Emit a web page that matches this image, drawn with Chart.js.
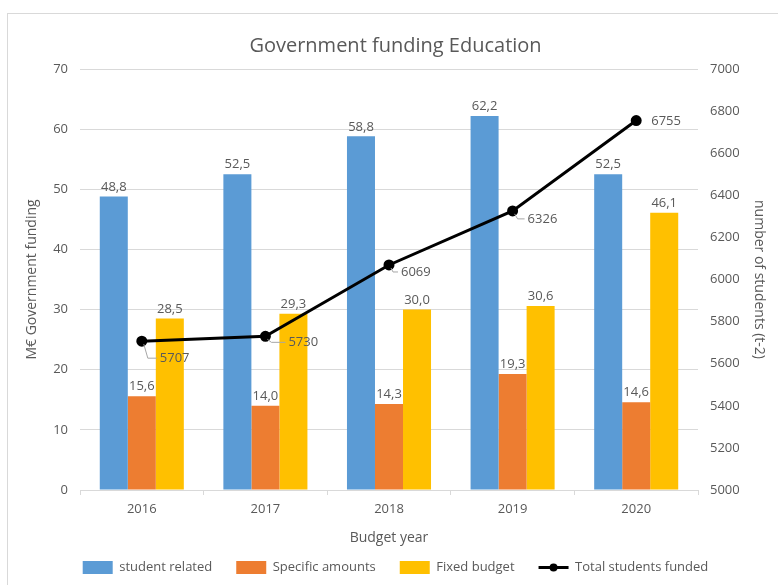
<!DOCTYPE html>
<html>
<head>
<meta charset="utf-8">
<script src="https://cdn.jsdelivr.net/npm/chart.js@4/dist/chart.umd.min.js"></script>
<style>
  body { margin: 0; background: #fff; overflow: hidden; }
  #wrap { position: absolute; left: 7px; top: 13px; border-left: 1px solid #d9d9d9; border-top: 1px solid #d9d9d9; }
  canvas { display: block; }
</style>
</head>
<body>
<div id="wrap"><canvas id="myChart" width="771" height="572"></canvas></div>
<script>
const years = ["2016", "2017", "2018", "2019", "2020"]
const studentRelated = [48.8, 52.5, 58.8, 62.2, 52.5]
const specificAmounts = [15.6, 14.0, 14.3, 19.3, 14.6]
const fixedBudget = [28.5, 29.3, 30.0, 30.6, 46.1]
const totalStudents = [5707, 5730, 6069, 6326, 6755]

const grijs = "#595959"
const lettertype = '"Open Sans", sans-serif'

// waar de labels van de lijn komen te staan (dx, dy, met lijntje of niet)
const lijnLabels = [
    [18, 17, true],
    [23, 6, true],
    [12, 7, true],
    [15, 8, true],
    [15, 1, false]
]

function komma(v) {
    return v.toFixed(1).replace(".", ",")
}

const labelsPlugin = {
    id: "labels",
    afterDatasetsDraw(chart) {
        const ctx = chart.ctx
        ctx.save()
        ctx.font = "13px " + lettertype
        ctx.fillStyle = grijs
        ctx.textAlign = "center"
        ctx.textBaseline = "bottom"
        for (let d = 0; d < 3; d++) {
            chart.getDatasetMeta(d).data.forEach((bar, i) => {
                ctx.fillText(komma(chart.data.datasets[d].data[i]), bar.x, bar.y - 3)
            })
        }
        ctx.textAlign = "left"
        ctx.textBaseline = "middle"
        ctx.strokeStyle = "#a6a6a6"
        ctx.lineWidth = 1
        chart.getDatasetMeta(3).data.forEach((pt, i) => {
            const [dx, dy, lijn] = lijnLabels[i]
            if (lijn) {
                ctx.beginPath()
                ctx.moveTo(pt.x + 2, pt.y + 3)
                ctx.lineTo(pt.x + Math.min(6, dx / 3), pt.y + dy)
                ctx.lineTo(pt.x + dx - 3, pt.y + dy)
                ctx.stroke()
            }
            ctx.fillText(String(totalStudents[i]), pt.x + dx, pt.y + dy)
        })
        ctx.restore()
    },
    afterDraw(chart) {
        // bolletje op het lijntje in de legenda
        const box = chart.legend.legendHitBoxes[3]
        if (!box) return
        const ctx = chart.ctx
        ctx.save()
        ctx.fillStyle = "black"
        ctx.beginPath()
        ctx.arc(box.left + 15, box.top + box.height / 2, 4, 0, Math.PI * 2)
        ctx.fill()
        ctx.restore()
    }
}

const grafica = document.getElementById("myChart").getContext("2d")

const myChart = new Chart(grafica, {
    type: "bar",
    data: {
        labels: years,
        datasets: [
            {
                label: "student related",
                data: studentRelated,
                backgroundColor: "#5B9BD5",
                yAxisID: "y",
                order: 1
            },
            {
                label: "Specific amounts",
                data: specificAmounts,
                backgroundColor: "#ED7D31",
                yAxisID: "y",
                order: 1
            },
            {
                label: "Fixed budget",
                data: fixedBudget,
                backgroundColor: "#FFC000",
                yAxisID: "y",
                order: 1
            },
            {
                label: "Total students funded",
                type: "line",
                data: totalStudents,
                yAxisID: "y2",
                borderColor: "black",
                backgroundColor: "black",
                borderWidth: 3,
                pointRadius: 4,
                pointBackgroundColor: "black",
                order: 0
            }
        ]
    },
    options: {
        responsive: false,
        animation: false,
        datasets: {
            bar: { categoryPercentage: 0.68, barPercentage: 1.0 }
        },
        layout: { padding: { left: 12, right: 8, top: 0, bottom: 2 } },
        plugins: {
            legend: {
                position: "bottom",
                labels: {
                    color: grijs,
                    font: { family: lettertype, size: 13 },
                    usePointStyle: true,
                    pointStyleWidth: 30,
                    boxHeight: 13,
                    padding: 24,
                    sort: (a, b) => a.datasetIndex - b.datasetIndex,
                    generateLabels(chart) {
                        const items = Chart.defaults.plugins.legend.labels.generateLabels(chart)
                        items.forEach(it => {
                            if (it.datasetIndex < 3) {
                                it.pointStyle = "rect"
                                it.lineWidth = 0
                                it.strokeStyle = it.fillStyle
                            } else {
                                it.pointStyle = "line"
                                it.lineWidth = 3
                                it.strokeStyle = "black"
                            }
                        })
                        return items
                    }
                }
            },
            title: {
                display: true,
                text: "Government funding Education",
                color: grijs,
                font: { family: lettertype, size: 20, weight: "normal" },
                padding: { top: 20, bottom: 11 }
            },
            tooltip: { enabled: false }
        },
        scales: {
            x: {
                grid: { display: true, drawOnChartArea: false, drawTicks: true, tickLength: 5, color: "#d9d9d9" },
                border: { display: true, color: "#d9d9d9" },
                ticks: { color: grijs, font: { family: lettertype, size: 13 }, padding: 6 },
                title: { display: true, text: "Budget year", color: grijs, font: { family: lettertype, size: 14 }, padding: { top: 0, bottom: -9 } },
                afterFit(scale) { scale.height = 47 }
            },
            y: {
                position: "left",
                min: 0, max: 70,
                ticks: { stepSize: 10, color: grijs, font: { family: lettertype, size: 13 }, padding: 12 },
                grid: { color: "#d9d9d9", drawTicks: false },
                border: { display: false },
                title: { display: true, text: "M€ Government funding", color: grijs, font: { family: lettertype, size: 14 } },
                afterFit(scale) { scale.width = 60 }
            },
            y2: {
                position: "right",
                min: 5000, max: 7000,
                ticks: {
                    stepSize: 200, color: grijs, font: { family: lettertype, size: 13 }, padding: 12,
                    callback: v => String(v)
                },
                grid: { display: false, drawTicks: false },
                border: { display: false },
                title: { display: true, text: "number of students (t-2)", color: grijs, font: { family: lettertype, size: 14 } },
                afterFit(scale) { scale.width = 73 }
            }
        }
    },
    plugins: [labelsPlugin]
})
</script>
</body>
</html>
